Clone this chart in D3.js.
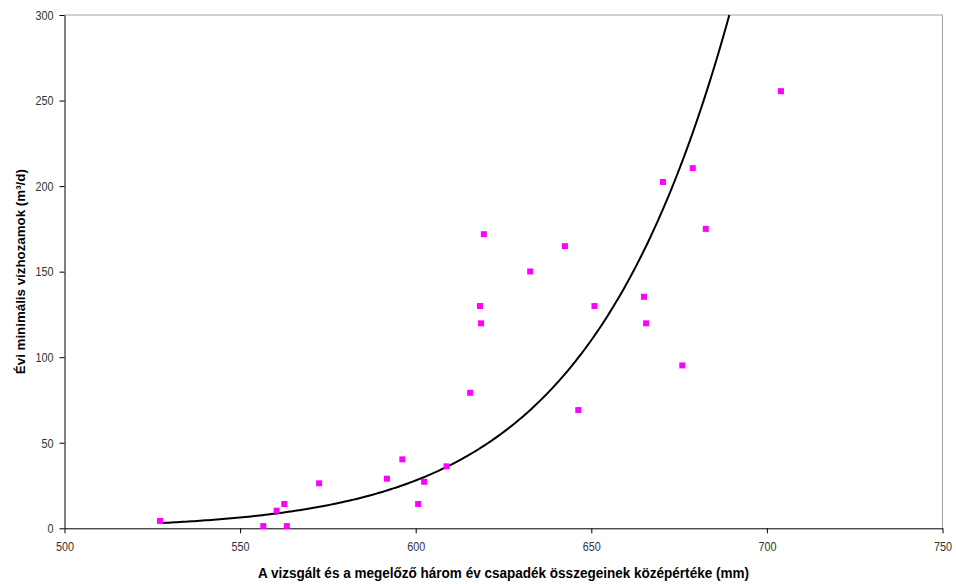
<!DOCTYPE html>
<html>
<head>
<meta charset="utf-8">
<script src="https://cdn.jsdelivr.net/npm/d3@7"></script>
<style>
body { margin: 0; background: #fff; }
svg { display: block; font-family: "Liberation Sans", Arial, sans-serif; }
</style>
</head>
<body>
<svg width="956" height="584"></svg>
<script>
// measured points: mean precipitation (mm) vs yearly minimum discharge
var precip = [527.2, 556.6, 560.4, 562.6, 563.3, 572.5, 591.8, 596.2, 600.7, 602.4,
    608.8, 615.5, 618.3, 618.6, 619.4, 632.6, 642.5, 646.3, 650.9, 665.0,
    665.6, 670.4, 675.9, 678.9, 682.6, 704.0];
var discharge = [4.3, 1.3, 10.3, 14.2, 1.3, 26.3, 29.0, 40.3, 14.2, 27.2,
    36.2, 79.2, 129.9, 119.8, 171.9, 150.1, 164.9, 69.1, 129.9, 135.3,
    119.8, 202.4, 95.2, 210.5, 175.0, 255.5];

var xTicks = [500, 550, 600, 650, 700, 750];
var yTicks = [0, 50, 100, 150, 200, 250, 300];

// power trendline y = trendA * x^trendN
var trendN = 17.1;
var trendA = 300 / Math.pow(689.3, trendN);
var trendStart = 527.2;

var svg = d3.select('svg');
var plotLeft = 64.5, plotRight = 942.5, plotTop = 15, plotBottom = 528.3;
var squeeze = 0.8;  // narrow tick label glyphs

var x = d3.scaleLinear().domain([500, 750]).range([plotLeft, plotRight]);
var y = d3.scaleLinear().domain([0, 300]).range([plotBottom, plotTop]);

// plot area frame (top/right grey)
svg.append('path')
    .attr('d', 'M' + plotLeft + ',' + y(300) + 'H' + x(750) + 'V' + y(0))
    .attr('fill', 'none')
    .attr('stroke', '#a0a0a0')
    .attr('stroke-width', 1);

var xAxis = svg.append('g')
    .attr('transform', 'translate(0,' + y(0) + ')')
    .call(d3.axisBottom(x).tickValues(xTicks).tickSize(5).tickPadding(8).tickSizeOuter(0));
var yAxis = svg.append('g')
    .attr('transform', 'translate(' + x(500) + ',0)')
    .call(d3.axisLeft(y).tickValues(yTicks).tickSize(5).tickPadding(6).tickSizeOuter(0));

[xAxis, yAxis].forEach(function(g) {
    g.select('.domain').attr('stroke', '#000');
    g.selectAll('.tick line').attr('stroke', '#000');
    g.selectAll('.tick text')
        .attr('fill', '#333')
        .style('font-size', '13.5px')
        .style('font-family', '"Liberation Sans", Arial, sans-serif');
});
xAxis.selectAll('.tick text').attr('transform', 'scale(' + squeeze + ',1)');
yAxis.selectAll('.tick text')
    .attr('x', -11 / squeeze)
    .attr('transform', 'scale(' + squeeze + ',1)');

// trendline
var curvePts = [];
var xEnd = Math.pow(300 / trendA, 1 / trendN);
for (var i = 0; i <= 200; i++) {
    var xv = trendStart + (xEnd - trendStart) * i / 200;
    curvePts.push([xv, trendA * Math.pow(xv, trendN)]);
}
svg.append('path')
    .datum(curvePts)
    .attr('fill', 'none')
    .attr('stroke', '#000')
    .attr('stroke-width', 2)
    .attr('d', d3.line()
        .x(function(d) { return x(d[0]); })
        .y(function(d) { return y(d[1]); }));

// markers
var pts = precip.map(function(p, i) { return { px: p, q: discharge[i] }; });
var markers = svg.append('g');
markers.selectAll('rect')
    .data(pts)
    .enter()
    .append('rect')
    .attr('x', function(d) { return x(d.px) - 3; })
    .attr('y', function(d) { return y(d.q) - 3; })
    .attr('width', 6)
    .attr('height', 6)
    .attr('fill', '#ff00ff');

// axis titles
svg.append('text')
    .attr('x', (plotLeft + plotRight) / 2)
    .attr('y', 578)
    .attr('text-anchor', 'middle')
    .attr('textLength', 491)
    .attr('lengthAdjust', 'spacingAndGlyphs')
    .style('font-size', '14px')
    .style('font-weight', 'bold')
    .text('A vizsgált és a megelőző három év csapadék összegeinek középértéke (mm)');

svg.append('text')
    .attr('transform', 'translate(25,' + (plotTop + plotBottom) / 2 + ') rotate(-90)')
    .attr('text-anchor', 'middle')
    .attr('textLength', 205)
    .attr('lengthAdjust', 'spacingAndGlyphs')
    .style('font-size', '13px')
    .style('font-weight', 'bold')
    .text('Évi minimális vízhozamok (m³/d)');
</script>
</body>
</html>
